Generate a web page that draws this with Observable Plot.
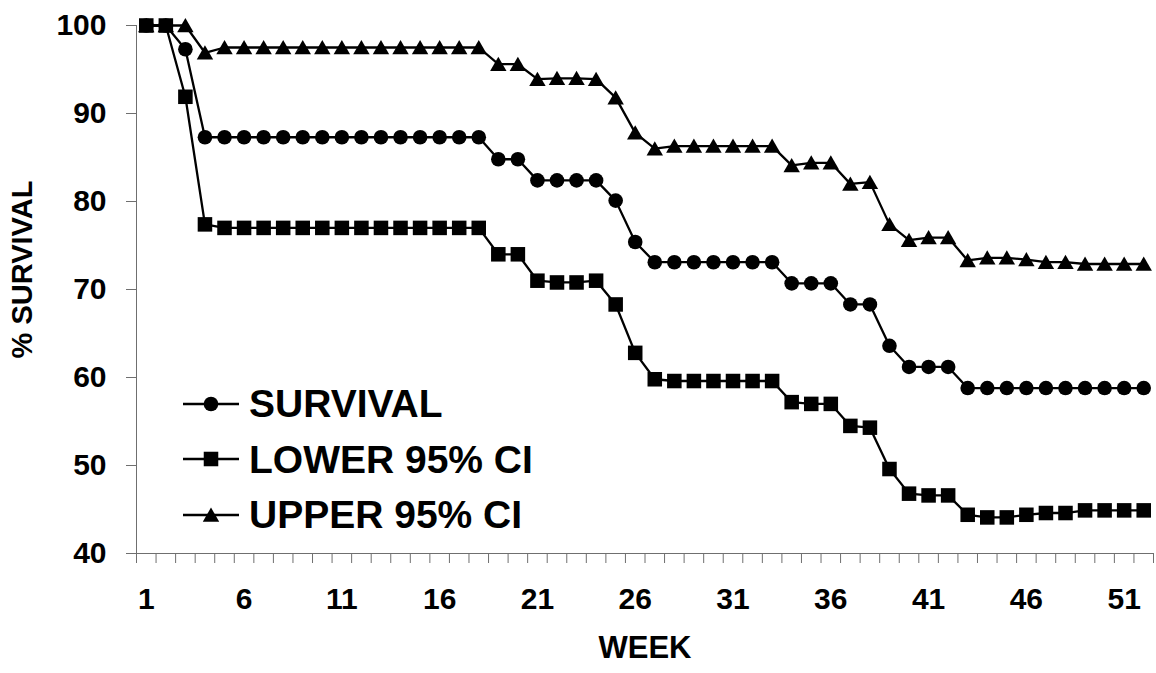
<!DOCTYPE html>
<html><head><meta charset="utf-8">
<script src="https://cdn.jsdelivr.net/npm/d3@7"></script>
<script src="https://cdn.jsdelivr.net/npm/@observablehq/plot@0.6"></script>
<style>
body{margin:0;background:#fff;}
#wrap{position:relative;width:1156px;height:673px;font-family:"Liberation Sans",Arial,sans-serif;}
#legend{position:absolute;left:183px;top:376px;}
.row{display:flex;align-items:center;height:55.5px;font-weight:bold;font-size:39px;color:#000;line-height:1;}
.row svg{margin-right:10px;display:block}
</style></head><body><div id="wrap"></div>
<script>
const weeks = [1,2,3,4,5,6,7,8,9,10,11,12,13,14,15,16,17,18,19,20,21,22,23,24,25,26,27,28,29,30,31,32,33,34,35,36,37,38,39,40,41,42,43,44,45,46,47,48,49,50,51,52];
const survival = [100,100,97.3,87.3,87.3,87.3,87.3,87.3,87.3,87.3,87.3,87.3,87.3,87.3,87.3,87.3,87.3,87.3,84.8,84.8,82.4,82.4,82.4,82.4,80.1,75.4,73.1,73.1,73.1,73.1,73.1,73.1,73.1,70.7,70.7,70.7,68.3,68.3,63.6,61.2,61.2,61.2,58.8,58.8,58.8,58.8,58.8,58.8,58.8,58.8,58.8,58.8];
const lower = [100,100,91.9,77.4,77.0,77.0,77.0,77.0,77.0,77.0,77.0,77.0,77.0,77.0,77.0,77.0,77.0,77.0,74.0,74.0,71.0,70.8,70.8,71.0,68.3,62.8,59.8,59.6,59.6,59.6,59.6,59.6,59.6,57.2,57.0,57.0,54.5,54.3,49.6,46.8,46.6,46.6,44.4,44.1,44.1,44.4,44.6,44.6,44.9,44.9,44.9,44.9];
const upper = [100,100,100,96.9,97.5,97.5,97.5,97.5,97.5,97.5,97.5,97.5,97.5,97.5,97.5,97.5,97.5,97.5,95.6,95.6,93.9,94.0,94.0,93.9,91.8,87.8,86.0,86.3,86.3,86.3,86.3,86.3,86.3,84.1,84.4,84.4,82.0,82.2,77.4,75.6,75.9,75.9,73.3,73.6,73.6,73.4,73.1,73.1,72.9,72.9,72.9,72.9];
const seriesNames = ["SURVIVAL", "LOWER 95% CI", "UPPER 95% CI"];
const xTickLabels = [1,6,11,16,21,26,31,36,41,46,51];
const yTicks = [40,50,60,70,80,90,100];
const xTitle = "WEEK";
const yTitle = "% SURVIVAL";

const seriesValues = [survival, lower, upper];
const symbols = ["circle", "square", "triangle"];
const radii = [7.3, 8.2, 6.1];
const offsets = [0, 0, 2];

const rows = [];
seriesNames.forEach((s, k) => weeks.forEach((w, i) => rows.push({series: s, week: w, value: seriesValues[k][i]})));
const boundaries = weeks.map(w => w - 0.5).concat([weeks[weeks.length - 1] + 0.5]);

const axisColor = "#6f6f6f";
const font = "'Liberation Sans', Arial, sans-serif";

const marks = [
  Plot.ruleX([boundaries[0]], {stroke: axisColor, strokeWidth: 1}),
  Plot.ruleY([yTicks[0]], {stroke: axisColor, strokeWidth: 1}),
  Plot.axisY({ticks: yTicks, tickSize: 10, tickPadding: 20, stroke: axisColor, label: null, fontSize: 30, fontWeight: "bold"}),
  Plot.axisX({ticks: boundaries, tickSize: 10, tickFormat: () => "", stroke: axisColor, label: null}),
  Plot.axisX({ticks: xTickLabels, tickSize: 0, tickPadding: 34, label: null, fontSize: 30, fontWeight: "bold"}),
  Plot.text([yTitle], {text: d => d, frameAnchor: "left", textAnchor: "middle", rotate: -90, dx: -114, dy: -20, fontSize: 29, fontWeight: "bold"}),
  Plot.text([xTitle], {text: d => d, frameAnchor: "bottom", textAnchor: "middle", dy: 104, fontSize: 31, fontWeight: "bold"})
];
seriesNames.forEach((s, k) => {
  const data = rows.filter(r => r.series === s);
  marks.push(Plot.line(data, {x: "week", y: "value", stroke: "black", strokeWidth: 2.3}));
});
seriesNames.forEach((s, k) => {
  const data = rows.filter(r => r.series === s);
  marks.push(Plot.dot(data, {x: "week", y: "value", symbol: () => symbols[k], r: radii[k], fill: "black", stroke: "none", dy: offsets[k]}));
});

const chart = Plot.plot({
  width: 1156, height: 673,
  marginLeft: 136, marginRight: 3, marginTop: 25, marginBottom: 120,
  x: {domain: [boundaries[0], boundaries[boundaries.length - 1]]},
  y: {domain: [yTicks[0], yTicks[yTicks.length - 1]]},
  style: {fontFamily: font, fontWeight: "bold", color: "black", background: "white", overflow: "visible"},
  marks
});
const wrap = document.getElementById("wrap");
wrap.appendChild(chart);

// legend
const legend = document.createElement("div");
legend.id = "legend";
const symMap = {circle: d3.symbolCircle, square: d3.symbolSquare, triangle: d3.symbolTriangle};
seriesNames.forEach((s, k) => {
  const row = document.createElement("div");
  row.className = "row";
  const size = Math.PI * radii[k] * radii[k];
  const path = d3.symbol(symMap[symbols[k]], size)();
  row.innerHTML = `<svg width="56" height="20" viewBox="0 0 56 20"><line x1="0" x2="56" y1="10" y2="10" stroke="black" stroke-width="2.3"/><path transform="translate(28,${10 + offsets[k]})" d="${path}" fill="black"/></svg><span></span>`;
  row.querySelector("span").textContent = s;
  legend.appendChild(row);
});
wrap.appendChild(legend);
</script>
</body></html>
